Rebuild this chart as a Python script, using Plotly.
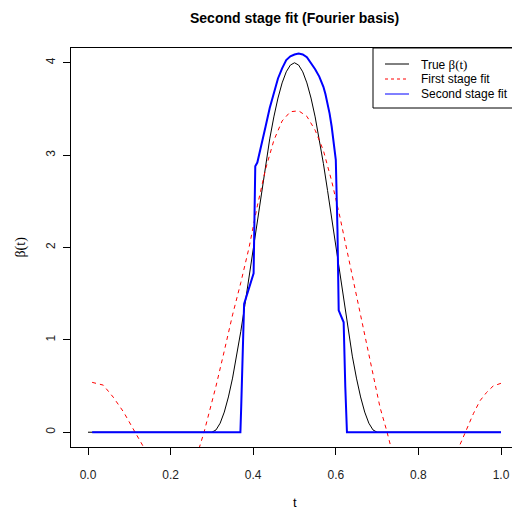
import plotly.graph_objects as go

# ---- data ----
true_t = [0.0, 0.30, 0.31, 0.32, 0.33, 0.34, 0.35, 0.36, 0.37, 0.38, 0.39, 0.40,
          0.41, 0.42, 0.43, 0.44, 0.45, 0.46, 0.47, 0.48, 0.49, 0.50,
          0.51, 0.52, 0.53, 0.54, 0.55, 0.56, 0.57, 0.58, 0.59, 0.60,
          0.61, 0.62, 0.63, 0.64, 0.65, 0.66, 0.67, 0.68, 0.69, 0.70, 1.0]
true_v = [0.0, 0.0, 0.025, 0.098, 0.218, 0.382, 0.586, 0.824, 1.092, 1.382, 1.687, 2.0,
          2.313, 2.618, 2.908, 3.176, 3.414, 3.618, 3.782, 3.902, 3.975, 4.0,
          3.975, 3.902, 3.782, 3.618, 3.414, 3.176, 2.908, 2.618, 2.313, 2.0,
          1.687, 1.382, 1.092, 0.824, 0.586, 0.382, 0.218, 0.098, 0.025, 0.0, 0.0]

first_t = [0.01, 0.037, 0.061, 0.086, 0.114, 0.134, 0.15, 0.17, 0.19, 0.21, 0.23, 0.25,
           0.27, 0.281, 0.29, 0.31, 0.33, 0.35, 0.37, 0.39, 0.41, 0.43, 0.45, 0.47,
           0.49, 0.51, 0.53, 0.55, 0.57, 0.59, 0.61, 0.63, 0.65, 0.67, 0.69, 0.707,
           0.723, 0.734, 0.75, 0.78, 0.82, 0.86, 0.88, 0.899, 0.915, 0.933, 0.949,
           0.965, 0.981, 1.0]
first_v = [0.54, 0.51, 0.38, 0.22, 0.0, -0.16, -0.28, -0.39, -0.46, -0.48, -0.42, -0.30,
           -0.16, 0.0, 0.15, 0.50, 0.88, 1.27, 1.62, 2.0, 2.45, 2.85, 3.16, 3.37,
           3.47, 3.48, 3.42, 3.27, 3.05, 2.72, 2.33, 1.90, 1.46, 1.03, 0.62, 0.27,
           0.02, -0.17, -0.32, -0.50, -0.60, -0.50, -0.35, -0.15, 0.02, 0.20, 0.34,
           0.43, 0.50, 0.53]

second_t = [0.01, 0.369, 0.371, 0.373, 0.378, 0.401, 0.403, 0.405, 0.41, 0.42, 0.43,
            0.44, 0.45, 0.46, 0.47, 0.48, 0.49, 0.50, 0.51, 0.52, 0.53, 0.54, 0.55,
            0.56, 0.565, 0.57, 0.575, 0.58, 0.585, 0.59, 0.595, 0.60, 0.604, 0.607,
            0.619, 0.621, 0.623, 0.627, 1.0]
second_v = [0.0, 0.0, 0.28, 0.56, 1.39, 1.72, 2.30, 2.88, 2.92, 3.10, 3.31,
            3.51, 3.68, 3.83, 3.94, 4.03, 4.07, 4.09, 4.10, 4.09, 4.06, 4.00, 3.93,
            3.85, 3.80, 3.74, 3.66, 3.57, 3.45, 3.31, 3.15, 2.95, 2.20, 1.32,
            1.19, 0.80, 0.49, 0.0, 0.0]

x_ticks = [0.0, 0.2, 0.4, 0.6, 0.8, 1.0]
x_tick_labels = ["0.0", "0.2", "0.4", "0.6", "0.8", "1.0"]
y_ticks = [0, 1, 2, 3, 4]
y_tick_labels = ["0", "1", "2", "3", "4"]

legend_labels = ["True <span style='font-family:Liberation Serif, DejaVu Serif, serif;font-size:13px'>β(t)</span>",
                 "First stage fit", "Second stage fit"]

# ---- layout geometry (pixels) ----
W, H = 512, 512
L, T, B = 71, 48, 447
R = 512
pw, ph = R - L, B - T

def px(x):
    return (x - L) / pw

def py(y):
    return (B - y) / ph

FONT = "Liberation Sans, Arial, sans-serif"

fig = go.Figure()
fig.add_trace(go.Scatter(x=true_t, y=true_v, mode="lines",
                         line=dict(color="black", width=1), showlegend=False))
fig.add_trace(go.Scatter(x=first_t, y=first_v, mode="lines",
                         line=dict(color="#FF0000", width=1, dash="4px,4px"), showlegend=False))
fig.add_trace(go.Scatter(x=second_t, y=second_v, mode="lines",
                         line=dict(color="#0000FF", width=2), showlegend=False))

x0 = -17 / 413
fig.update_xaxes(range=[x0, x0 + pw / 413], showgrid=False, zeroline=False,
                 showline=True, mirror=True, linecolor="black", linewidth=1,
                 ticks="outside", ticklen=7, tickcolor="black",
                 tickvals=x_ticks, ticktext=x_tick_labels,
                 tickfont=dict(family=FONT, size=12, color="#222"),
                 ticklabelstandoff=10)
fig.update_yaxes(range=[-0.16, 4.16], showgrid=False, zeroline=False,
                 showline=True, linecolor="black", linewidth=1,
                 ticks="outside", ticklen=7, tickcolor="black",
                 tickvals=y_ticks, ticktext=y_tick_labels, tickangle=-90,
                 tickfont=dict(family=FONT, size=12, color="#222"),
                 ticklabelstandoff=3)

# legend drawn as box, sample lines and text
shapes = [dict(type="rect", xref="paper", yref="paper", x0=px(373), x1=px(540),
               y0=py(108), y1=py(48), line=dict(color="black", width=1),
               fillcolor="white", layer="above")]
rows = [64, 79, 94]
styles = [dict(color="black", width=1), dict(color="#FF0000", width=1, dash="3px,3px"),
          dict(color="#0000FF", width=1)]
for r, st in zip(rows, styles):
    shapes.append(dict(type="line", xref="paper", yref="paper", x0=px(385), x1=px(409),
                       y0=py(r), y1=py(r), line=st, layer="above"))

annotations = []
for r, lab in zip(rows, legend_labels):
    annotations.append(dict(text=lab, xref="paper", yref="paper", x=px(419), y=py(r),
                            xanchor="left", yanchor="middle", showarrow=False,
                            font=dict(family=FONT, size=12, color="black")))
annotations.append(dict(text="<b>Second stage fit (Fourier basis)</b>", xref="paper", yref="paper",
                        x=px(294.5), y=py(18), xanchor="center", yanchor="middle",
                        showarrow=False, font=dict(family=FONT, size=14, color="black")))
annotations.append(dict(text="t", xref="paper", yref="paper", x=px(294.5), y=py(502),
                        xanchor="center", yanchor="middle", showarrow=False,
                        font=dict(family=FONT, size=13, color="black")))
annotations.append(dict(text="β(t)", xref="paper", yref="paper", x=px(20), y=py(247.5),
                        xanchor="center", yanchor="middle", showarrow=False, textangle=-90,
                        font=dict(family="Liberation Serif, DejaVu Serif, serif", size=14, color="black")))

fig.update_layout(width=W, height=H, margin=dict(l=L, r=W - R, t=T, b=H - B, pad=0),
                  plot_bgcolor="white", paper_bgcolor="white",
                  shapes=shapes, annotations=annotations, showlegend=False)

fig.write_html("out.html")
